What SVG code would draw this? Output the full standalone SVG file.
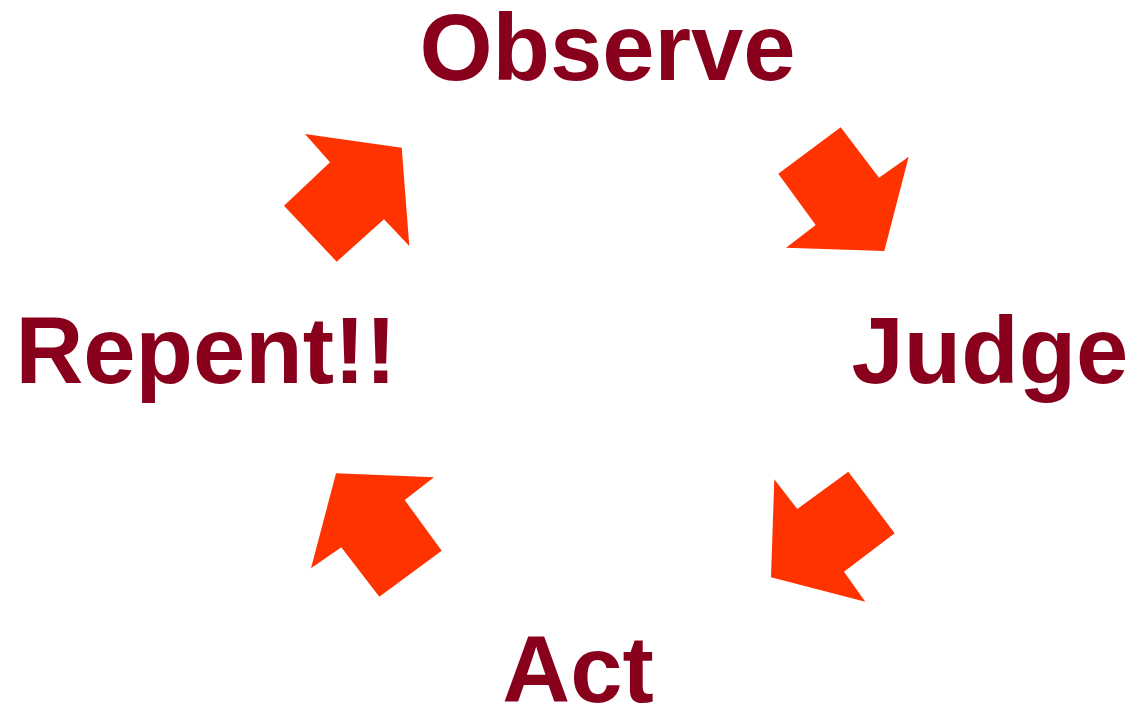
<svg xmlns="http://www.w3.org/2000/svg" width="1136" height="707" viewBox="0 0 1136 707">
<style>
.lbl{font-family:"Liberation Sans",Arial,sans-serif;font-weight:bold;font-size:94px;fill:#88001B;text-anchor:middle}
.arr{fill:#FF3300;stroke:none}
</style>
<rect width="1136" height="707" fill="#FFFFFF"/>
<g id="observe"><text class="lbl" x="607.5" y="80">Observe</text></g>
<g id="judge"><text class="lbl" x="990" y="383">Judge</text></g>
<g id="act"><text class="lbl" x="578" y="702">Act</text></g>
<g id="repent"><text class="lbl" x="206" y="383">Repent!!</text></g>
<g id="connectors">
<polygon class="arr" points="305,134 401.7,147.7 409.3,246 384,219.3 336.7,261.7 284,205.7 330,162.3"/>
<polygon class="arr" points="840.7,127.3 879,177.7 908.7,156.7 884.3,251 786,247.7 815.7,225 778.3,173.7"/>
<polygon class="arr" points="848.3,471.7 894.7,533.3 844,571.7 865.3,601.7 771,577.3 774.3,479.3 797.3,509"/>
<polygon class="arr" points="336,473.3 434,477.3 404.7,500 441.7,550.7 379.3,596.7 341.3,547.3 311,568.3"/>
</g>
</svg>
